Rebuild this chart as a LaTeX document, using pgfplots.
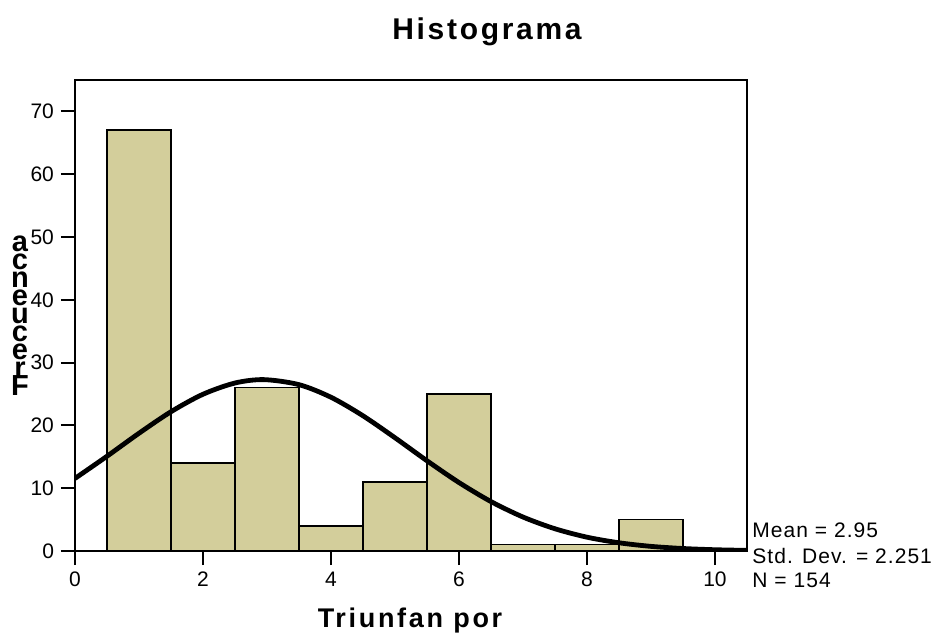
\documentclass[border=0pt]{standalone}
\usepackage{pgfplots}
\pgfplotsset{compat=1.18}
\usepackage{fontspec}
\setmainfont{Liberation Sans}
\definecolor{barfill}{RGB}{211,206,155}
\begin{document}
\begin{tikzpicture}
\useasboundingbox (-37.5pt,-41.5pt) rectangle (429.5pt,275.5pt);
\begin{axis}[
  scale only axis,
  width=336pt, height=235.5pt,
  xmin=0, xmax=10.5, ymin=0, ymax=75,
  xtick={0,2,4,6,8,10}, ytick={0,10,20,30,40,50,60,70},
  xtick pos=left, ytick pos=left,
  tick align=outside, major tick length=7pt,
  axis line style={line width=1pt}, every tick/.style={black,line width=1pt},
  /pgf/number format/assume math mode=true,
  tick label style={font=\fontsize{10.5}{12}\selectfont},
  clip=true,
]
\addplot[ybar interval, fill=barfill, draw=black, line width=0.75pt]
  coordinates {(0.5,67) (1.5,14) (2.5,26) (3.5,4) (4.5,11) (5.5,25) (6.5,1) (7.5,1) (8.5,5) (9.5,0)};
\addplot[smooth, black, line width=2.4pt] coordinates {
(0,11.56) (0.5,15.09) (1,18.75) (1.5,22.18) (2,24.96) (2.5,26.75) (2.95,27.29)
(3.5,26.49) (4,24.48) (4.5,21.53) (5,18.03) (5.5,14.37) (6,10.90) (6.5,7.87)
(7,5.41) (7.5,3.54) (8,2.20) (8.5,1.31) (9,0.737) (9.5,0.396) (10,0.202) (10.5,0.098)};
\end{axis}
\node[anchor=base, font=\fontsize{15}{16}\selectfont\bfseries\addfontfeatures{LetterSpace=9}] at (206pt,256pt) {Histograma};
\node[anchor=base, font=\fontsize{13.5}{14}\selectfont\bfseries\addfontfeatures{LetterSpace=10}] at (167.5pt,-38pt) {Triunfan por};
\foreach \l [count=\i] in {F,r,e,c,u,e,n,c,a}
  \node[anchor=base, inner sep=0pt, font=\fontsize{14.5}{14}\selectfont\bfseries] at (-27.5pt,{78pt+(\i-1)*8.94pt}) {\l};
\begin{scope}[every node/.style={anchor=base west, inner sep=0pt, font=\fontsize{10.5}{12}\selectfont\addfontfeatures{LetterSpace=5}}]
\node at (338.5pt,7pt) {Mean = 2.95};
\node at (338.5pt,-6pt) {Std. Dev. = 2.251};
\node at (338.5pt,-18pt) {N = 154};
\end{scope}
\end{tikzpicture}
\end{document}
